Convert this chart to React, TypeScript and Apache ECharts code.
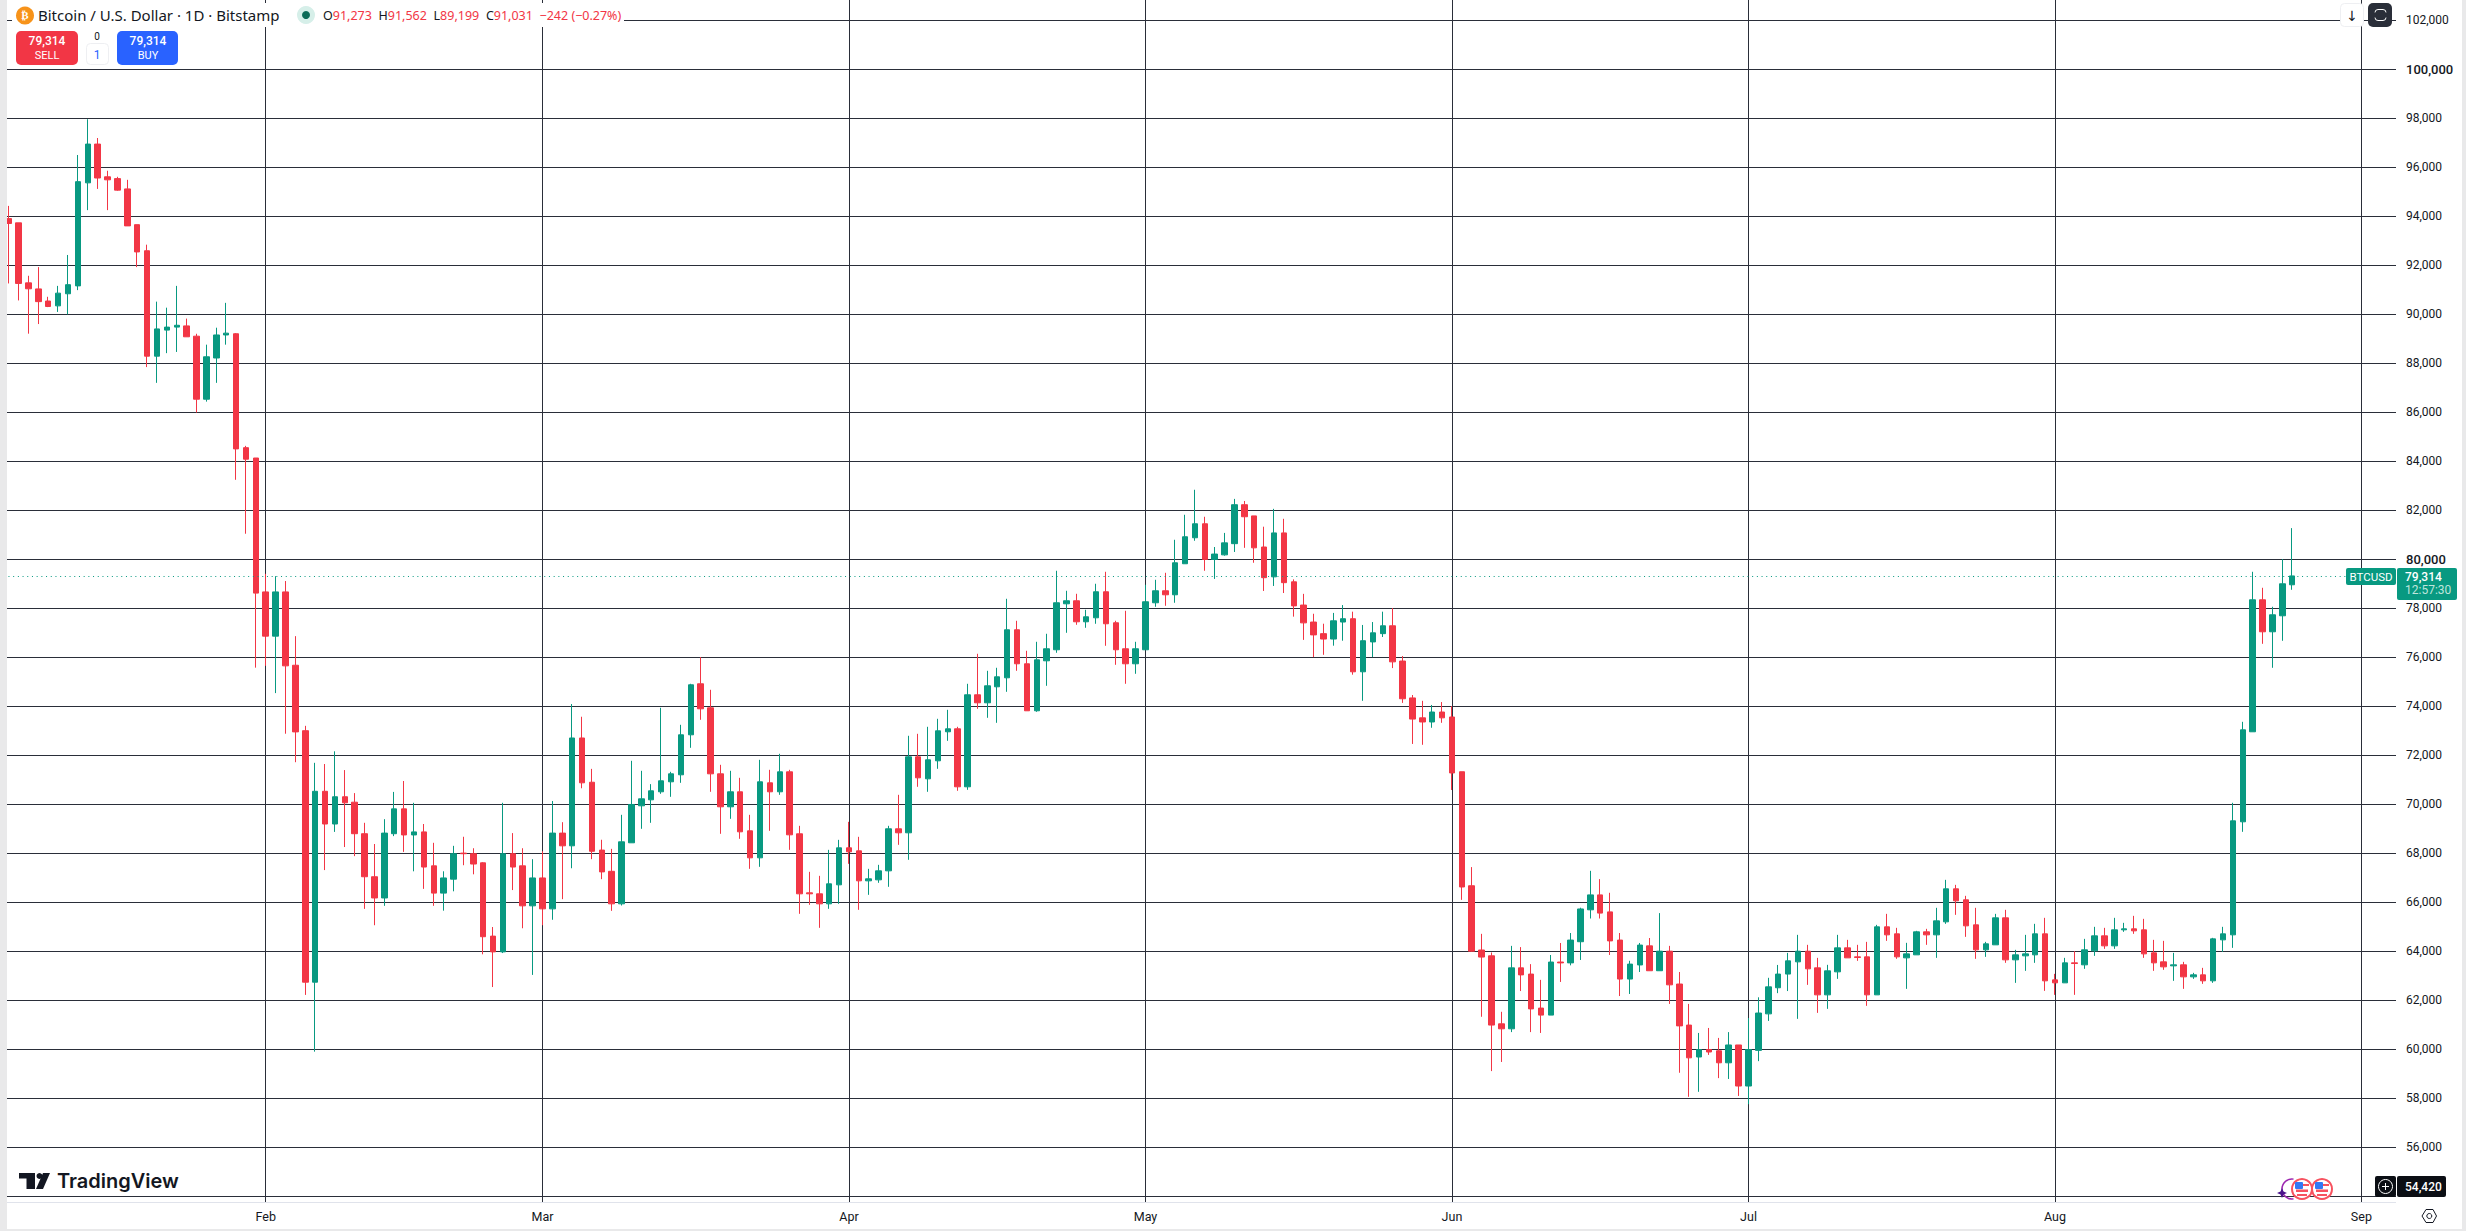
import React, { useEffect, useRef } from "react";
import * as echarts from "echarts";

const FONT = "Roboto, 'Noto Sans', sans-serif";
const LEGEND_FONT = "'Noto Sans', Roboto, sans-serif";
const UP = "#089981";
const DOWN = "#F23645";
const GRID = "#2a2e39";
const INK = "#131722";

const monthNames = ["Jan", "Feb", "Mar", "Apr", "May", "Jun", "Jul", "Aug", "Sep"];
const monthDays = [31, 28, 31, 30, 31, 30, 31, 31, 30];
const firstDay = 6; // first candle: 6 Jan
const slotCount = 242;

const gridTicks = [
  54000, 56000, 58000, 60000, 62000, 64000, 66000, 68000, 70000, 72000, 74000, 76000,
  78000, 80000, 82000, 84000, 86000, 88000, 90000, 92000, 94000, 96000, 98000, 100000, 102000,
];
const labelTicks = [
  56000, 58000, 60000, 62000, 64000, 66000, 68000, 70000, 72000, 74000, 76000,
  78000, 80000, 82000, 84000, 86000, 88000, 90000, 92000, 94000, 96000, 98000, 100000, 102000,
];
const lastPrice = 79314;

const opens = [
  93895,93722,91273,91026,90532,90334,90828,91150,95354,96937,
  95601,95527,95107,93648,92584,88281,89345,89468,89517,89097,
  86525,88207,89147,89196,84547,84126,78661,76856,78661,75669,
  72998,62735,70525,69190,70302,70080,68794,67038,66172,68794,
  69808,68744,68868,67483,66370,66939,68002,67978,67607,64615,
  63972,67978,67483,65851,66989,65727,68819,68300,72701,70895,
  68126,67260,65933,68423,69933,70177,70504,70912,71198,72830,
  74912,73932,71238,69892,70504,68912,67810,70871,70504,71320,
  68790,66382,66341,65933,66708,68218,68095,66871,66912,67279,
  68994,68831,71932,71034,71769,72953,73075,70708,74463,74136,
  74789,75156,77116,75728,73810,75850,76300,78177,78300,77442,
  77605,78667,77402,76341,75728,76300,78218,78708,78544,79810,
  80871,81442,79987,80173,80630,82220,81763,80494,79276,81069,
  79073,78125,77432,76958,76738,77432,77567,75401,76620,76958,
  77279,75841,74335,73523,73354,73760,73557,71323,66670,64048,
  63811,61036,60833,63320,63066,61679,61392,63557,63523,64386,
  65689,66298,65604,64454,62863,63439,64217,63202,64000,62660,
  60985,59682,59987,59936,59445,60173,58498,59953,61442,62508,
  63066,63565,64000,63320,62218,63157,64136,63769,63769,62218,
  64994,64708,63728,63851,64790,64667,65197,66545,66096,65075,
  64055,64259,65361,63647,63810,63851,64708,62830,62708,63524,
  63443,64014,64626,64218,64871,64912,64871,63932,63565,63402,
  63443,62953,63035,62790,64463,64667,69279,72953,78340,77034,
  77687,78952,
];
const closes = [
  93697,91249,91031,90507,90309,90853,91199,95403,96937,95552,
  95478,95057,93598,92535,88281,89394,89468,89542,89072,86525,
  88256,89147,89221,84497,84077,78612,76856,78661,75644,72949,
  62735,70525,69190,70302,70055,68794,67038,66172,68819,69808,
  68744,68868,67434,66370,66989,67978,67978,67557,64590,63972,
  67978,67434,65851,66989,65727,68819,68300,72701,70871,68077,
  67236,65933,68463,69987,70218,70545,70953,71238,72830,74871,
  73891,71238,69892,70504,68871,67810,70912,70504,71320,68749,
  66341,66341,65933,66749,68218,68055,66871,66953,67279,68994,
  68831,71932,71075,71810,72993,73075,70708,74463,74136,74830,
  75197,77116,75728,73810,75891,76341,78218,78300,77442,77646,
  78667,77361,76300,75728,76341,78259,78708,78544,79850,80912,
  81442,79987,80206,80663,82220,81729,80460,79242,81069,79039,
  78091,77398,76907,76738,77482,77567,75401,76670,76992,77279,
  75807,74301,73472,73354,73760,73523,71273,66620,64000,63760,
  60985,60833,63320,63033,61645,61392,63557,63523,64454,65723,
  66298,65554,64420,62863,63473,64250,63202,64000,62627,60952,
  59648,59987,59886,59445,60173,58498,59987,61476,62545,63066,
  63606,64000,63280,62218,63198,64136,63728,63742,62218,64994,
  64667,63769,63891,64790,64667,65238,66545,66055,65034,64055,
  64300,65361,63647,63851,63891,64708,62790,62708,63524,63497,
  64055,64626,64218,64871,64912,64830,63891,63524,63361,63443,
  62953,63035,62790,64503,64708,69320,73034,78340,77034,77728,
  78993,79314,
];
const highs = [
  94414,93722,91562,91916,90705,91150,92411,96491,97950,97184,
  95848,95601,95478,93648,92831,90507,90260,91150,89814,89196,
  88751,89443,90457,89221,84621,84126,79400,79304,79106,76856,
  73196,71687,71638,72157,71391,70451,69239,68374,69387,70500,
  70945,70055,69190,68423,67260,68299,68670,68201,67631,64986,
  70055,68819,68201,67755,68077,70129,69264,74086,73567,71440,
  68547,68176,69565,71769,71361,70817,73932,71320,73238,74912,
  76000,74667,71606,71361,71075,69565,71810,71402,72055,71402,
  69116,67238,67075,68136,68544,69279,68667,67361,67524,69116,
  70381,72790,72871,73157,73483,73850,73157,74912,76136,75442,
  75565,78381,77483,76259,76626,76953,79524,78708,78585,77932,
  78994,79483,77483,77891,76626,78953,79157,79442,80789,81810,
  82830,81728,80494,81069,82457,82372,81763,81323,82051,81645,
  79174,78582,77770,77364,77804,78125,77855,77313,77432,77855,
  78000,76044,74454,74217,74048,74166,74000,71323,67432,64708,
  63947,61527,64217,64167,63472,62830,63845,64335,64742,65774,
  67280,66941,66383,64742,63608,64335,64538,65554,64217,63151,
  61848,60664,60867,60461,60698,60173,61273,62118,62914,63439,
  63930,64667,64259,63728,63443,64667,64463,64259,64381,65075,
  65524,64953,64341,64830,64912,65769,66912,66708,66259,65769,
  64381,65524,65688,64055,64667,65116,65361,63075,63728,64000,
  64503,64994,64953,65361,65157,65442,65320,64463,64422,63932,
  63565,63116,63320,64545,64994,70055,73361,79483,78830,78054,
  80000,81265,
];
const lows = [
  91249,90556,89199,89592,90284,90086,89987,90977,94241,95107,
  94241,95033,93598,91916,87836,87193,88405,88454,89072,85981,
  86426,87193,88751,83236,81035,75570,75644,74532,72874,71712,
  62216,59900,67310,68868,68250,67879,65727,65059,65851,68695,
  68052,67260,66543,65851,65653,66444,67508,67137,63873,62537,
  63923,66494,64936,63032,65059,65282,66123,67384,70648,67755,
  66939,65647,65865,68423,68994,69239,70422,70300,70871,72300,
  73443,70504,68790,69402,68586,67361,67443,68912,70381,68136,
  65525,65892,64953,65729,65933,67565,65688,66300,66790,66627,
  68340,67729,70708,70504,71443,72585,70545,70585,73891,73524,
  73320,74585,75442,73810,73769,74830,76177,76993,77320,77197,
  77361,76463,75687,74912,75320,76300,78054,78095,78218,79810,
  80748,79524,79191,80139,80291,80460,79851,78700,78904,78616,
  77652,76704,76000,76095,76467,76670,75283,74217,76000,76822,
  75553,74132,72457,72423,73117,73320,70579,66095,63980,61324,
  59107,59480,60698,62373,60698,60664,61392,62745,63422,63642,
  65334,65334,63845,62170,62254,63151,63202,63202,61848,59039,
  58058,58261,59767,58820,58786,58092,57754,59513,61154,62288,
  62373,61239,62626,61483,61647,62871,63728,63606,61770,62218,
  64422,63688,62463,63851,64259,63728,65116,65483,64585,63688,
  63769,64259,63525,62708,63198,63525,62381,62218,62708,62218,
  63280,63810,64096,64096,64790,64708,63728,63198,63239,62790,
  62463,62871,62667,62708,63973,64136,68871,72953,76544,75565,
  76667,78748,
];

function buildCategories(): string[] {
  const out: string[] = [];
  let m = 0;
  let d = firstDay;
  for (let i = 0; i < slotCount; i++) {
    out.push(`${monthNames[m]} ${d}`);
    d++;
    if (d > monthDays[m]) {
      d = 1;
      m++;
    }
  }
  return out;
}
const categories = buildCategories();
const isMonthStart = (_: number, v: string) => / 1$/.test(v);

const txt = (x: number, y: number, text: string, o: any = {}) => ({
  type: "text",
  z: 30,
  x,
  y,
  silent: true,
  style: {
    text,
    fill: o.fill || INK,
    font: `${o.weight || "normal"} ${o.size || 12}px ${o.family || FONT}`,
    textAlign: o.align || "left",
    textVerticalAlign: "middle",
    rich: o.rich,
  },
});
const box = (x: number, y: number, w: number, h: number, fill: string, r = 0, stroke?: string, z = 25) => ({
  type: "rect",
  z,
  silent: true,
  shape: { x, y, width: w, height: h, r },
  style: { fill, stroke: stroke || null, lineWidth: stroke ? 1 : 0 },
});

function flag(cx: number, cy: number) {
  return [
    { type: "circle", z: 28, silent: true, shape: { cx, cy, r: 10 }, style: { fill: "#fff", stroke: "#f7525f", lineWidth: 2 } },
    box(cx - 6, cy + 0.5, 12, 2.5, "#f7525f", 0, undefined, 29),
    box(cx - 5, cy + 5, 10, 2, "#f7525f", 0, undefined, 29),
    box(cx + 1, cy - 5, 6, 2, "#f7525f", 0, undefined, 29),
    box(cx - 7, cy - 7, 8, 7, "#3179f5", 1, undefined, 29),
  ];
}

function overlays() {
  return [
    // frame strips
    box(0, 0, 7, 1231, "#e9e9ea"),
    box(2462, 0, 4, 1231, "#e9e9ea"),
    box(0, 1229, 2466, 2, "#e9e9ea"),
    box(7, 1202, 2389, 1, "#e0e3eb"),

    // symbol legend
    box(12, 3, 612, 24, "#ffffff"),
    { type: "circle", z: 27, silent: true, shape: { cx: 25, cy: 15.5, r: 9 }, style: { fill: "#f7931a" } },
    txt(25, 15.5, "₿", { fill: "#fff", size: 11, align: "center", weight: "bold", family: "'DejaVu Sans'" }),
    txt(38, 15, "Bitcoin / U.S. Dollar · 1D · Bitstamp", { size: 15, family: LEGEND_FONT }),
    { type: "circle", z: 27, silent: true, shape: { cx: 306, cy: 15, r: 9 }, style: { fill: "#d6efe9" } },
    { type: "circle", z: 28, silent: true, shape: { cx: 306, cy: 15, r: 4 }, style: { fill: "#0b6b57" } },
    {
      type: "text",
      z: 30,
      x: 323,
      y: 15,
      silent: true,
      style: {
        text: "{k|O}{v|91,273}  {k|H}{v|91,562}  {k|L}{v|89,199}  {k|C}{v|91,031}  {v|−242 (−0.27%)}",
        textVerticalAlign: "middle",
        rich: {
          k: { fill: INK, font: `12.5px ${LEGEND_FONT}` },
          v: { fill: DOWN, font: `12.5px ${LEGEND_FONT}` },
        },
      },
    },

    // trade buttons
    box(12, 27, 172, 41, "#ffffff"),
    box(16, 31, 62, 34, DOWN, 5),
    txt(47, 41, "79,314", { fill: "#fff", size: 12, align: "center", weight: 500 }),
    txt(47, 55, "SELL", { fill: "#fff", size: 11, align: "center" }),
    txt(97, 36, "0", { size: 10, align: "center" }),
    box(86.5, 43.5, 22, 21, "#fff", 4, "#eeeff2"),
    txt(97, 54.5, "1", { size: 12, align: "center", fill: "#2962ff" }),
    box(117, 31, 61, 34, "#2962ff", 5),
    txt(148, 41, "79,314", { fill: "#fff", size: 12, align: "center", weight: 500 }),
    txt(148, 55, "BUY", { fill: "#fff", size: 11, align: "center" }),

    // top-right controls
    box(2340.5, 3.5, 23, 23, "#fff", 4, "#eeeff2"),
    txt(2352, 15.5, "↓", { size: 14, align: "center", family: "'DejaVu Sans'" }),
    box(2368, 3, 24, 24, "#2a2e39", 5),
    box(2375, 9.5, 11, 11, "#2a2e39", 3, "#ffffff", 27),
    box(2373.5, 12.5, 4, 5, "#2a2e39", 0, undefined, 28),
    box(2383.5, 12.5, 4, 5, "#2a2e39", 0, undefined, 28),

    // last price tags
    box(2346, 568, 50, 17, UP, 2),
    txt(2371, 577, "BTCUSD", { fill: "#fff", size: 11.5, align: "center" }),
    box(2397, 568, 60, 32, UP, 2),
    txt(2405, 577, "79,314", { fill: "#fff", size: 12, weight: 500 }),
    txt(2405, 590, "12:57:30", { fill: "#bfe5dc", size: 12 }),

    // crosshair tags
    box(2375, 1176, 21, 21, "#0b0e14", 2),
    { type: "circle", z: 27, silent: true, shape: { cx: 2385.5, cy: 1186.5, r: 7 }, style: { fill: "none", stroke: "#fff", lineWidth: 1 } },
    box(2382, 1186, 7, 1, "#fff", 0, undefined, 28),
    box(2385, 1183, 1, 7, "#fff", 0, undefined, 28),
    box(2397, 1176, 49, 21, "#0b0e14", 2),
    txt(2405, 1186.5, "54,420", { fill: "#fff", size: 12, weight: 500 }),

    // event markers
    { type: "arc", z: 27, silent: true, shape: { cx: 2292, cy: 1189, r: 10, startAngle: Math.PI * 0.45, endAngle: Math.PI * 1.55 }, style: { stroke: "#9c27b0", fill: "none", lineWidth: 1.5 } },
    { type: "polygon", z: 28, silent: true, shape: { points: [[2282, 1188], [2283.5, 1191.5], [2287, 1193], [2283.5, 1194.5], [2282, 1198], [2280.5, 1194.5], [2277, 1193], [2280.5, 1191.5]] }, style: { fill: "#4a148c" } },
    ...flag(2302, 1189),
    ...flag(2322, 1189),

    // settings glyph
    { type: "polygon", z: 27, silent: true, shape: { points: [[2422, 1216], [2426, 1209.5], [2433, 1209.5], [2436.5, 1216], [2433, 1222.5], [2426, 1222.5]] }, style: { fill: "none", stroke: INK, lineWidth: 1 } },
    { type: "circle", z: 27, silent: true, shape: { cx: 2429.3, cy: 1216, r: 2.5 }, style: { fill: "none", stroke: INK, lineWidth: 1 } },

    // watermark
    box(19, 1173, 16, 5.5, "#131722", 0, undefined, 27),
    box(26.5, 1173, 8.5, 16, "#131722", 0, undefined, 27),
    { type: "circle", z: 27, silent: true, shape: { cx: 39.5, cy: 1176, r: 3 }, style: { fill: "#131722" } },
    { type: "polygon", z: 27, silent: true, shape: { points: [[43, 1173], [50, 1173], [43, 1189], [36, 1189]] }, style: { fill: "#131722" } },
    txt(57, 1181, "TradingView", { size: 20, weight: 600, family: "Inter, Roboto, sans-serif" }),
  ];
}

export default function App() {
  const ref = useRef<HTMLDivElement | null>(null);
  useEffect(() => {
    document.body.style.margin = "0";
    document.body.style.overflow = "hidden";
    document.body.style.background = "#fff";
    const chart = echarts.init(ref.current as HTMLDivElement, undefined, { renderer: "svg" });
    chart.setOption({
      animation: false,
      backgroundColor: "#ffffff",
      textStyle: { fontFamily: FONT },
      grid: { left: 3.76, width: 2392.24, top: 0, height: 1202, containLabel: false },
      xAxis: {
        type: "category",
        data: categories,
        boundaryGap: true,
        axisLine: { show: false },
        axisTick: { show: false, alignWithLabel: true },
        axisLabel: {
          interval: isMonthStart,
          formatter: (v: string) => v.split(" ")[0],
          color: INK,
          fontSize: 12.5,
          margin: 8,
          hideOverlap: false,
        },
        splitLine: {
          show: true,
          interval: isMonthStart,
          alignWithLabel: true,
          lineStyle: { color: GRID, width: 1 },
        },
      },
      yAxis: {
        type: "value",
        position: "right",
        min: 53765,
        max: 102816,
        scale: true,
        axisLine: { show: false },
        axisTick: { show: false, customValues: gridTicks },
        splitLine: { show: true, lineStyle: { color: GRID, width: 1 } },
        axisLabel: {
          customValues: labelTicks,
          color: INK,
          fontSize: 12,
          margin: 10,
          formatter: (v: number) => {
            const s = v.toLocaleString("en-US");
            return v === 100000 || v === 80000 ? `{b|${s}}` : s;
          },
          rich: { b: { fontSize: 13, fontWeight: 500, color: INK } },
        },
      },
      series: [
        {
          type: "candlestick",
          barWidth: 6,
          data: opens.map((o, i) => [o, closes[i], lows[i], highs[i]]),
          itemStyle: {
            color: UP,
            color0: DOWN,
            borderColor: UP,
            borderColor0: DOWN,
            borderWidth: 1,
          },
          markLine: {
            silent: true,
            symbol: "none",
            label: { show: false },
            lineStyle: { color: UP, type: [1, 3.7], width: 1, opacity: 1 },
            data: [{ yAxis: lastPrice }],
          },
        },
      ],
      graphic: overlays(),
    });
    return () => chart.dispose();
  }, []);
  return <div ref={ref} style={{ position: "fixed", left: 0, top: 0, width: 2466, height: 1231 }} />;
}
